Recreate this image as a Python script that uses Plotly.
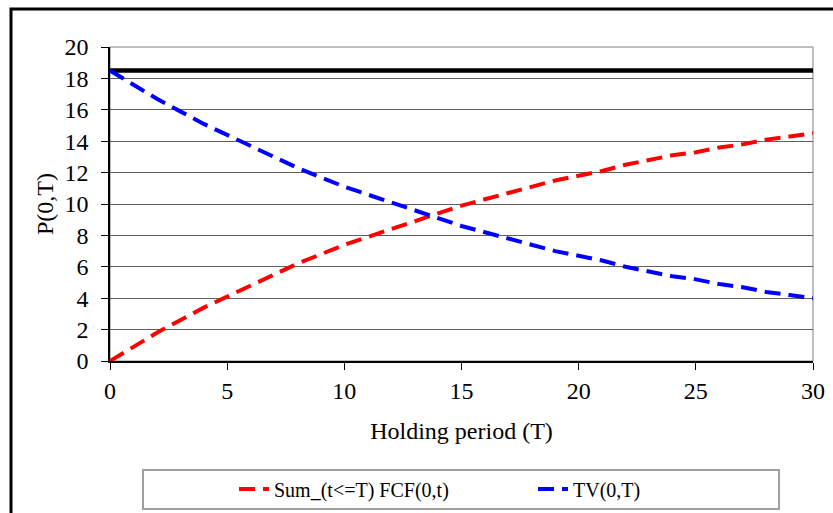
import plotly.graph_objects as go

# holding period T and values
T = list(range(0, 31))
tv = [18.5, 17.6, 16.7, 15.9, 15.1, 14.4, 13.7, 13.0, 12.3, 11.7,
      11.1, 10.6, 10.1, 9.6, 9.1, 8.6, 8.2, 7.8, 7.4, 7.0,
      6.7, 6.4, 6.0, 5.7, 5.4, 5.2, 4.9, 4.7, 4.4, 4.2, 4.0]
sum_fcf = [0.0, 0.9, 1.8, 2.6, 3.4, 4.1, 4.8, 5.5, 6.2, 6.8,
           7.4, 7.9, 8.4, 8.9, 9.4, 9.9, 10.3, 10.7, 11.1, 11.5,
           11.8, 12.1, 12.5, 12.8, 13.1, 13.3, 13.6, 13.8, 14.1, 14.3, 14.5]
price_x = [0, 30]
price_y = [18.5, 18.5]

fnt = "Liberation Serif"
W, H = 833, 513

# plot area in page pixels: x 110..813, y 47..361
def px_x(p):
    return (p - 110) / 703

def px_y(p):
    return (361 - p) / 314

fig = go.Figure()
fig.add_trace(go.Scatter(x=price_x, y=price_y, mode="lines", showlegend=False,
                         line=dict(color="black", width=4.5)))
fig.add_trace(go.Scatter(x=T, y=sum_fcf, mode="lines", name="Sum_(t<=T) FCF(0,t)",
                         line=dict(color="#ff0000", width=4, dash="16px,8px"), legend="legend"))
fig.add_trace(go.Scatter(x=T, y=tv, mode="lines", name="TV(0,T)",
                         line=dict(color="#0000ff", width=4, dash="16px,8px"), legend="legend2"))

# plot area frame (grey) and outer chart frame (black)
fig.add_shape(type="rect", xref="paper", yref="paper", x0=0, x1=1, y0=0, y1=1,
              line=dict(color="#808080", width=1), layer="below")
fig.add_shape(type="rect", xref="paper", yref="paper", x0=px_x(11), x1=px_x(900),
              y0=px_y(600), y1=px_y(9), line=dict(color="black", width=3))
# legend box
fig.add_shape(type="rect", xref="paper", yref="paper",
              x0=px_x(143), x1=px_x(779), y0=px_y(509), y1=px_y(470),
              line=dict(color="#a0a0a0", width=2))

# y-axis title as a rotated annotation (axis title misplaces with autoexpand off)
fig.add_annotation(text="P(0,T)", xref="paper", yref="paper", x=px_x(45), y=0.5,
                   xanchor="center", yanchor="middle", textangle=-90, showarrow=False,
                   font=dict(family=fnt, size=24, color="black"))

fig.update_xaxes(range=[0, 30], tickvals=[0, 5, 10, 15, 20, 25, 30], automargin=False,
                 showgrid=False, zeroline=False, showline=True, linecolor="black", linewidth=1.5,
                 ticks="outside", ticklen=7, tickcolor="black",
                 tickfont=dict(family=fnt, size=24, color="black"),
                 title=dict(text="Holding period (T)", font=dict(family=fnt, size=24, color="black"),
                            standoff=20))
fig.update_yaxes(range=[0, 20], tickvals=list(range(0, 21, 2)), automargin=False,
                 showgrid=True, gridcolor="#606060", gridwidth=1,
                 zeroline=False, showline=True, linecolor="black", linewidth=1.5,
                 ticks="outside", ticklen=7, tickcolor="black", ticklabelstandoff=8,
                 tickfont=dict(family=fnt, size=24, color="black"))

leg_font = dict(family=fnt, size=20, color="black")
fig.update_layout(
    width=W, height=H,
    margin=dict(l=110, r=20, t=47, b=152, autoexpand=False),
    plot_bgcolor="white", paper_bgcolor="white",
    font=dict(family=fnt, color="black"),
    legend=dict(xref="container", yref="container", x=234 / W, xanchor="left",
                y=1 - 489 / H, yanchor="middle",
                font=leg_font, bgcolor="rgba(0,0,0,0)", borderwidth=0),
    legend2=dict(xref="container", yref="container", x=533 / W, xanchor="left",
                 y=1 - 489 / H, yanchor="middle",
                 font=leg_font, bgcolor="rgba(0,0,0,0)", borderwidth=0),
)

fig.write_html("out.html", config={"displayModeBar": False},
               post_script="document.body.style.margin='0';document.body.style.overflow='hidden';")
